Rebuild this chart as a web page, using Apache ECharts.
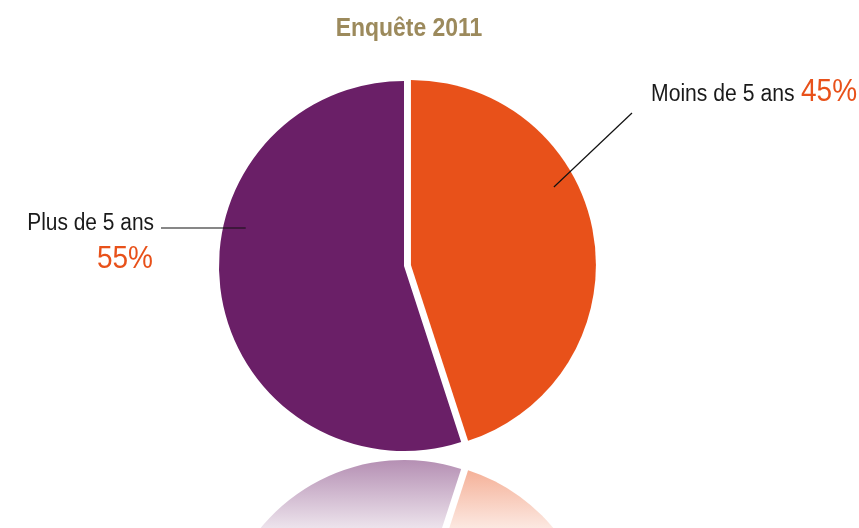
<!DOCTYPE html>
<html>
<head>
<meta charset="utf-8">
<script src="https://cdn.jsdelivr.net/npm/echarts@6/dist/echarts.min.js"></script>
<style>
  html, body { margin: 0; padding: 0; background: #fff; }
  #chart { width: 859px; height: 528px; }
</style>
</head>
<body>
<div id="chart"></div>
<script>
// ---- data ----
var titleText = 'Enquête 2011';
var categories = ['Moins de 5 ans', 'Plus de 5 ans'];
var values = [45, 55];
var percentLabels = ['45%', '55%'];

// ---- style / layout ----
var colors = ['#e8511a', '#6a1f67'];
var cx = 404, cy = 266, R = 185;
var mirrorY = 455.5;
var font = '"Liberation Sans", Arial, sans-serif';

var chart = echarts.init(document.getElementById('chart'), null, { renderer: 'canvas' });

function hexA(hex, a) {
  var n = parseInt(hex.slice(1), 16);
  return 'rgba(' + (n >> 16 & 255) + ',' + (n >> 8 & 255) + ',' + (n & 255) + ',' + a + ')';
}

var mainData = categories.map(function (c, i) {
  return { name: c, value: values[i], selected: i === 0, itemStyle: { color: colors[i] } };
});

var reflTop = 2 * mirrorY - cy - R;
var reflData = categories.map(function (c, i) {
  return {
    name: c, value: values[i], selected: i === 0,
    itemStyle: {
      color: new echarts.graphic.LinearGradient(0, reflTop - 4, 0, reflTop + 85, [
        { offset: 0, color: hexA(colors[i], 0.52) },
        { offset: 1, color: hexA(colors[i], 0.03) }
      ], true)
    }
  };
});

// polar helper relative to pie centre (angle in degrees, counterclockwise from +x)
function polar(deg, frac) {
  var a = deg * Math.PI / 180;
  return [cx + R * frac * Math.cos(a), cy - R * frac * Math.sin(a)];
}

var lineA0 = polar(27.8, 0.916), lineA1 = [632, 113];
var lineB0 = polar(166.5, 0.88), lineB1 = [161, lineB0[1]];

// condensed look: regular font squeezed horizontally
function txt(text, x, y, align, size, color, weight, sx) {
  return {
    type: 'text', x: x, y: y, z: 10, silent: true, scaleX: sx,
    style: {
      text: text, align: align, verticalAlign: 'middle',
      font: (weight || 'normal') + ' ' + size + 'px ' + font, fill: color
    }
  };
}

var option = {
  animation: false,
  backgroundColor: '#ffffff',
  graphic: [
    txt(titleText, 409, 29, 'center', 26.5, '#9c8a5c', 'bold', 0.866),
    { type: 'polyline', z: 10, silent: true, shape: { points: [lineA0, lineA1] },
      style: { stroke: '#111', lineWidth: 1.2, fill: null } },
    { type: 'polyline', z: 10, silent: true, shape: { points: [lineB0, lineB1] },
      style: { stroke: '#111', lineWidth: 1.2, fill: null } },
    txt(categories[0], 651, 95, 'left', 23, '#1a1a1a', 'normal', 0.92),
    txt(percentLabels[0], 801, 92, 'left', 32, '#e8511a', 'normal', 0.875),
    txt(categories[1], 154, 224, 'right', 23, '#1a1a1a', 'normal', 0.91),
    txt(percentLabels[1], 153, 259, 'right', 32, '#e8511a', 'normal', 0.875)
  ],
  series: [
    {
      type: 'pie',
      center: [cx, 2 * mirrorY - cy],
      radius: R,
      startAngle: -90,
      clockwise: false,
      selectedMode: true,
      selectedOffset: 7,
      silent: true,
      label: { show: false },
      labelLine: { show: false },
      data: reflData,
      z: 1
    },
    {
      type: 'pie',
      center: [cx, cy],
      radius: R,
      startAngle: 90,
      clockwise: true,
      selectedMode: true,
      selectedOffset: 7,
      silent: true,
      label: { show: false },
      labelLine: { show: false },
      data: mainData,
      z: 2
    }
  ]
};
chart.setOption(option);
</script>
</body>
</html>
